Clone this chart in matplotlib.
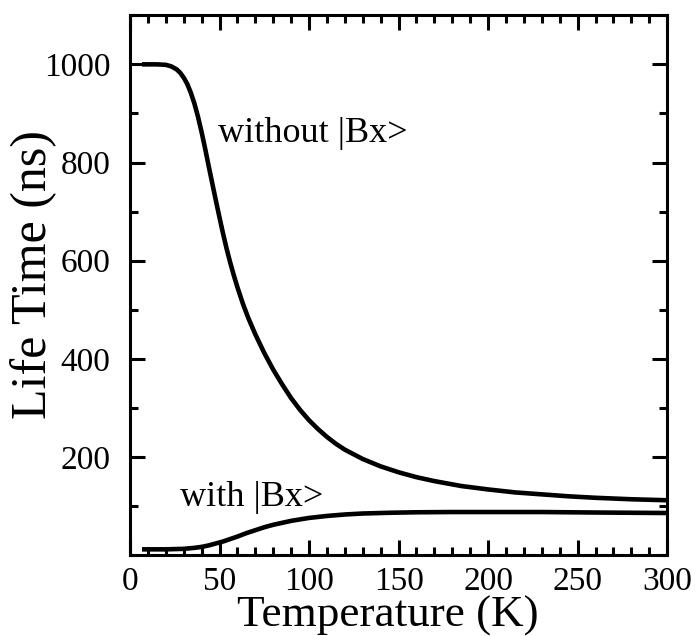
import matplotlib
matplotlib.use("Agg")
import matplotlib.pyplot as plt
from matplotlib.ticker import MultipleLocator

plt.rcParams['font.family'] = ['Liberation Serif', 'DejaVu Serif']

# without |Bx>
temp_without = [8, 15, 20, 23, 26, 28, 30, 32, 34, 36, 38, 40, 42, 44, 46, 48, 50,
                52, 54, 56, 58, 60, 63, 66, 70, 75, 80, 85, 90, 95, 100, 105,
                110, 115, 120, 130, 140, 150, 160, 170, 185, 200, 215, 230, 245,
                260, 280, 300]
life_without = [1000, 1000, 999, 996, 990, 983, 973, 960, 942, 920, 893, 862, 828,
                792, 757, 722, 688, 655, 624, 596, 570, 546, 513, 484, 450, 412,
                378, 348, 320, 296, 275, 257, 241, 227, 215, 196, 181, 169, 159,
                151, 141, 134, 128, 124, 120, 117, 114, 112]

# with |Bx>
temp_with = [8, 20, 30, 36, 40, 44, 48, 52, 56, 60, 65, 70, 75, 80, 85, 90, 95,
             100, 110, 120, 130, 145, 160, 180, 200, 230, 260, 300]
life_with = [12, 12, 13, 15, 17, 20, 24, 28, 33, 38, 45, 51, 57, 62, 66, 70, 73,
             76, 80, 83, 85, 86.5, 87.5, 88, 88, 88, 87, 86]

fig = plt.figure(figsize=(6.95, 6.36), dpi=100)
ax = fig.add_axes([0.187, 0.127, 0.773, 0.849])

ax.plot(temp_without, life_without, color='black', lw=3.3)
ax.plot(temp_with, life_with, color='black', lw=3.3)

ax.text(49, 860, "without |Bx>", fontsize=26, va='center', ha='left')
ax.text(28, 118, "with |Bx>", fontsize=26, va='center', ha='left')

ax.set_xlim(0, 300)
ax.set_ylim(0, 1100)
ax.set_xticks([0, 50, 100, 150, 200, 250, 300])
ax.set_yticks([200, 400, 600, 800, 1000])
ax.xaxis.set_minor_locator(MultipleLocator(10))
ax.yaxis.set_minor_locator(MultipleLocator(100))
ax.tick_params(which='both', direction='in', top=True, right=True, width=2.2,
               labelsize=24)
ax.tick_params(axis='x', which='both', pad=8)
ax.tick_params(axis='y', which='both', pad=14)
ax.tick_params(which='major', length=11)
ax.tick_params(which='minor', length=6)
for s in ax.spines.values():
    s.set_linewidth(2.2)

ax.set_xlabel("Temperature (K)", fontsize=32.5, labelpad=0)
ax.set_ylabel("Life Time (ns)", fontsize=36)
ax.xaxis.set_label_coords(0.48, -0.075)
ax.yaxis.set_label_coords(-0.135, 0.52)

fig.savefig("out.png", dpi=100)
